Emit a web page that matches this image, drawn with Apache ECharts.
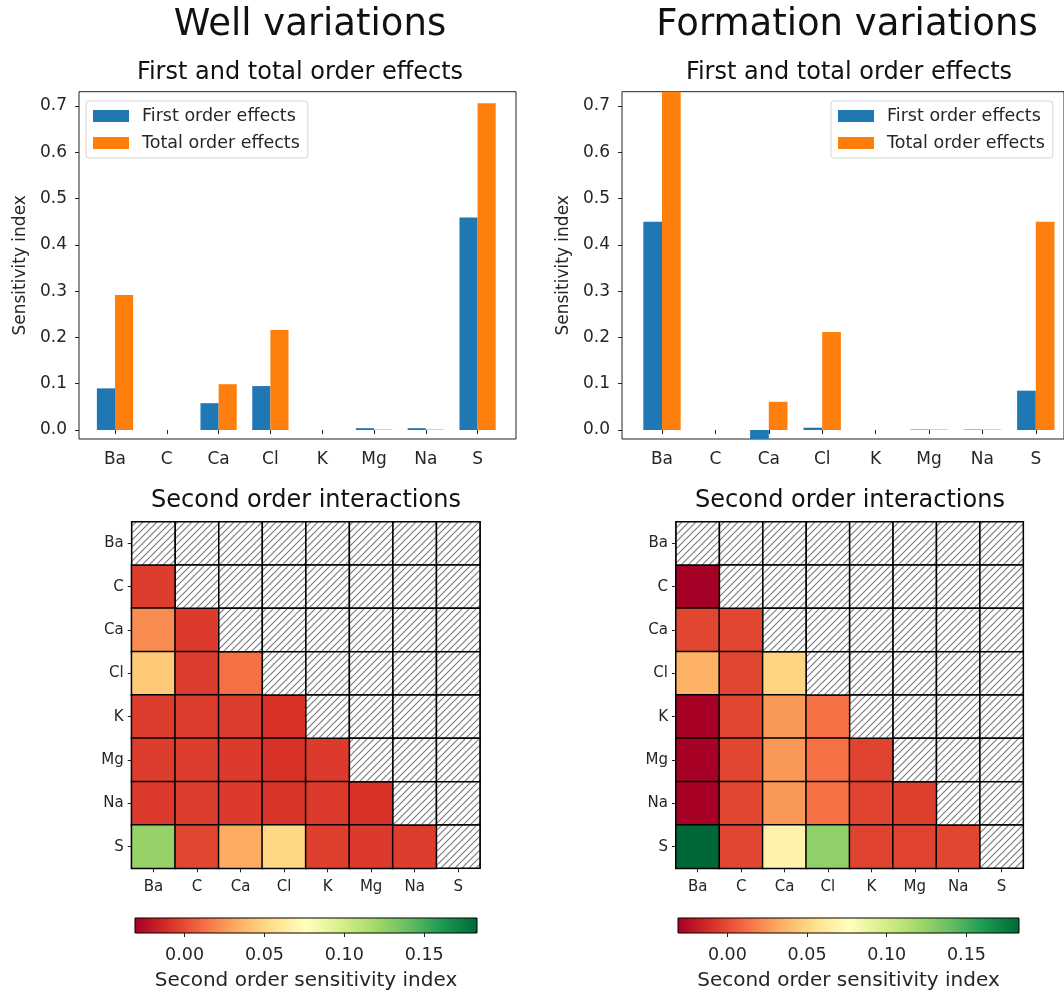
<!DOCTYPE html>
<html>
<head>
<meta charset="utf-8">
<script src="https://cdn.jsdelivr.net/npm/echarts@6/dist/echarts.min.js"></script>
<style>
  html, body { margin: 0; padding: 0; background: #fff; }
  #chart { width: 1064px; height: 993px; }
</style>
</head>
<body>
<div id="chart"></div>
<script>
const elements = ['Ba', 'C', 'Ca', 'Cl', 'K', 'Mg', 'Na', 'S'];

const wellFirst = [0.090, 0, 0.058, 0.095, 0, 0.004, 0.004, 0.459];
const wellTotal = [0.292, 0, 0.099, 0.216, 0, 0.001, 0.001, 0.706];
const formFirst = [0.450, 0, -0.025, 0.005, 0, 0.001, 0.001, 0.085];
const formTotal = [0.760, 0, 0.061, 0.212, 0, 0.001, 0.001, 0.450];

// second order indices, row i = interactions of elements[i] with elements[0..i-1]
const wellSecond = [
    [],
    [-0.005],
    [0.022, -0.006],
    [0.045, -0.005, 0.013],
    [-0.005, -0.005, -0.005, -0.009],
    [-0.005, -0.005, -0.006, -0.009, -0.006],
    [-0.006, -0.005, -0.006, -0.008, -0.006, -0.009],
    [0.124, -0.002, 0.033, 0.051, -0.004, -0.006, -0.005]
];
const formSecond = [
    [],
    [-0.031],
    [-0.002, -0.002],
    [0.035, -0.002, 0.050],
    [-0.030, -0.002, 0.026, 0.013],
    [-0.030, -0.002, 0.026, 0.013, -0.003],
    [-0.030, -0.002, 0.026, 0.013, -0.003, -0.004],
    [0.183, -0.002, 0.068, 0.126, -0.003, -0.003, -0.002]
];

const cmin = -0.031;
const cmax = 0.183;
const rdylgn = ['#a50026', '#d73027', '#f46d43', '#fdae61', '#fee08b', '#ffffbf',
    '#d9ef8b', '#a6d96a', '#66bd63', '#1a9850', '#006837'];

const font = 'DejaVu Sans';
const ink = '#262626';
const blue = '#1f77b4';
const orange = '#ff7f0e';

const ymin = -0.0194;
const ymax = 0.731;

// hatch pattern for the masked (upper) cells
const hatch = document.createElement('canvas');
hatch.width = 7;
hatch.height = 7;
(function () {
    const g = hatch.getContext('2d');
    g.fillStyle = '#fff';
    g.fillRect(0, 0, 7, 7);
    g.strokeStyle = '#7a7a7a';
    g.lineWidth = 1.1;
    g.beginPath();
    g.moveTo(-1, 8); g.lineTo(8, -1);
    g.moveTo(-1, 1); g.lineTo(1, -1);
    g.moveTo(6, 8); g.lineTo(8, 6);
    g.stroke();
})();

function lowerCells(rows) {
    const out = [];
    rows.forEach((row, i) => row.forEach((v, j) => out.push([j, i, v])));
    return out;
}
const maskCells = [];
elements.forEach((_, i) => elements.forEach((__, j) => { if (j >= i) maskCells.push([j, i]); }));

const chart = echarts.init(document.getElementById('chart'));

// layout boxes [frameLeft, frameWidth, firstTick, tickStep]
const barBoxes = [[79, 437, 115, 51.8], [622, 452, 662, 53.4]];
const barTop = 91.7;
const barHeight = 347.3;
const heatBoxes = [[131.7, 348.3], [676, 347.3]];
const heatTop = 521.7;
const heatHeight = 346.6;
const cbBoxes = [[135, 342], [678, 341]];

const grid = [];
const xAxis = [];
const yAxis = [];
const series = [];

barBoxes.forEach((b, k) => {
    grid.push({ left: b[0], top: barTop, width: b[1], height: barHeight,
        show: true, borderColor: '#222', borderWidth: 1, backgroundColor: 'transparent' });
    grid.push({ left: b[2] - b[3] / 2, top: barTop, width: b[3] * 8, height: barHeight });
    const g0 = 2 * k, g1 = 2 * k + 1;
    xAxis.push({ type: 'value', gridIndex: g0, show: false, min: 0, max: 1 });
    yAxis.push({
        type: 'value', gridIndex: g0, min: ymin, max: ymax, minInterval: 0.1, maxInterval: 0.1,
        axisLine: { show: false }, splitLine: { show: false },
        axisTick: { show: true, length: 4, lineStyle: { color: '#222' } },
        axisLabel: { fontFamily: font, fontSize: 17, color: ink, margin: 12,
            showMinLabel: false, showMaxLabel: false, formatter: v => v.toFixed(1) },
        name: 'Sensitivity index', nameLocation: 'middle', nameGap: 50,
        nameTextStyle: { fontFamily: font, fontSize: 17, color: ink }
    });
    xAxis.push({
        type: 'category', gridIndex: g1, data: elements,
        axisLine: { show: false },
        axisTick: { show: true, alignWithLabel: true, length: 4, lineStyle: { color: '#222' } },
        axisLabel: { fontFamily: font, fontSize: 17, color: ink, margin: 12 }
    });
    yAxis.push({ type: 'value', gridIndex: g1, min: ymin, max: ymax, show: false, splitLine: { show: false } });
});

const barSets = [[wellFirst, wellTotal], [formFirst, formTotal]];
barSets.forEach((set, k) => {
    series.push({ name: 'First order effects', type: 'bar', xAxisIndex: 2 * k + 1, yAxisIndex: 2 * k + 1,
        data: set[0], barWidth: '35%', barGap: '0%', itemStyle: { color: blue }, clip: true });
    series.push({ name: 'Total order effects', type: 'bar', xAxisIndex: 2 * k + 1, yAxisIndex: 2 * k + 1,
        data: set[1], barWidth: '35%', barGap: '0%', itemStyle: { color: orange }, clip: true });
});

const heatSets = [wellSecond, formSecond];
heatBoxes.forEach((b, k) => {
    grid.push({ left: b[0], top: heatTop, width: b[1], height: heatHeight,
        show: true, borderColor: '#000', borderWidth: 1.5, backgroundColor: 'transparent' });
    const gi = 4 + k;
    xAxis.push({
        type: 'category', gridIndex: gi, data: elements,
        axisLine: { show: false }, splitArea: { show: false },
        axisTick: { show: true, alignWithLabel: true, length: 4, lineStyle: { color: '#222' } },
        axisLabel: { fontFamily: font, fontSize: 15, color: ink, margin: 11 }
    });
    yAxis.push({
        type: 'category', gridIndex: gi, data: elements, inverse: true,
        axisLine: { show: false }, splitArea: { show: false },
        axisTick: { show: true, alignWithLabel: true, length: 4, lineStyle: { color: '#222' } },
        axisLabel: { fontFamily: font, fontSize: 15, color: ink, margin: 8 }
    });
});
heatSets.forEach((rows, k) => {
    series.push({
        type: 'heatmap', xAxisIndex: 4 + k, yAxisIndex: 4 + k, data: lowerCells(rows),
        itemStyle: { borderColor: '#000', borderWidth: 1.5 },
        emphasis: { disabled: true }
    });
});
[0, 1].forEach(k => {
    series.push({
        type: 'custom', xAxisIndex: 4 + k, yAxisIndex: 4 + k, data: maskCells, silent: true,
        renderItem: (params, api) => {
            const c = api.coord([api.value(0), api.value(1)]);
            const s = api.size([1, 1]);
            return {
                type: 'rect',
                shape: { x: c[0] - s[0] / 2, y: c[1] - s[1] / 2, width: s[0], height: s[1] },
                style: { fill: { image: hatch, repeat: 'repeat' }, stroke: '#000', lineWidth: 1.5 }
            };
        }
    });
});

const cbGradient = () => new echarts.graphic.LinearGradient(0, 0, 1, 0,
    rdylgn.map((c, i) => ({ offset: i / (rdylgn.length - 1), color: c })));

cbBoxes.forEach((b, k) => {
    grid.push({ left: b[0], top: 918, width: b[1], height: 15,
        show: true, borderColor: '#000', borderWidth: 1, backgroundColor: cbGradient() });
    const gi = 6 + k;
    xAxis.push({
        type: 'value', gridIndex: gi, min: cmin, max: cmax, minInterval: 0.05, maxInterval: 0.05,
        axisLine: { show: false }, splitLine: { show: false },
        axisTick: { show: true, length: 4, lineStyle: { color: '#222' } },
        axisLabel: { fontFamily: font, fontSize: 17.5, color: ink, margin: 13,
            showMinLabel: false, showMaxLabel: false, formatter: v => v.toFixed(2) },
        name: 'Second order sensitivity index', nameLocation: 'middle', nameGap: 38,
        nameTextStyle: { fontFamily: font, fontSize: 20, color: ink }
    });
    yAxis.push({ type: 'value', gridIndex: gi, show: false, splitLine: { show: false } });
});

const legendBase = {
    orient: 'vertical', icon: 'rect', itemWidth: 36, itemHeight: 12, itemGap: 9,
    padding: [6, 8, 6, 7], borderColor: '#d4d4d4', borderWidth: 1, borderRadius: 3,
    backgroundColor: 'rgba(255,255,255,0.8)',
    textStyle: { fontFamily: font, fontSize: 17.5, color: ink, padding: [0, 0, 0, 8] },
    data: ['First order effects', 'Total order effects'], selectedMode: false
};

function label(text, x, y, size) {
    return { type: 'text', x: x, y: y, silent: true,
        style: { text: text, fontFamily: font, fontSize: size, fill: '#111',
            textAlign: 'center', textVerticalAlign: 'middle', align: 'center', verticalAlign: 'middle' } };
}

chart.setOption({
    animation: false,
    backgroundColor: '#fff',
    grid: grid,
    xAxis: xAxis,
    yAxis: yAxis,
    legend: [
        Object.assign({}, legendBase, { left: 86, top: 101 }),
        Object.assign({}, legendBase, { left: 831, top: 101 })
    ],
    visualMap: {
        type: 'continuous', show: false, min: cmin, max: cmax, seriesIndex: [4, 5],
        inRange: { color: rdylgn }
    },
    graphic: [
        label('Well variations', 310, 25.5, 37),
        label('Formation variations', 847, 25.5, 37),
        label('First and total order effects', 300, 72.5, 24),
        label('First and total order effects', 849, 72.5, 24),
        label('Second order interactions', 306, 501, 24),
        label('Second order interactions', 850, 501, 24)
    ],
    series: series
});

window.addEventListener('resize', () => chart.resize());
</script>
</body>
</html>
